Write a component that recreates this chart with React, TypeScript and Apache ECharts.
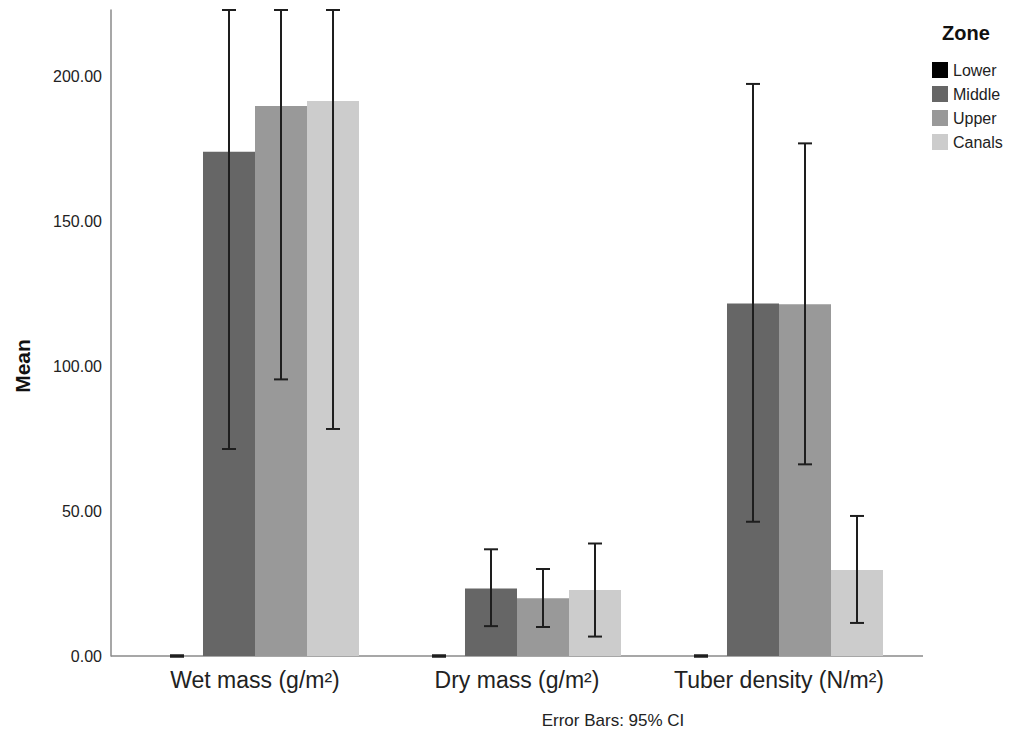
import React, { useEffect, useRef } from "react";
import * as echarts from "echarts";

const categories = ["Wet mass (g/m²)", "Dry mass (g/m²)", "Tuber density (N/m²)"];
const zones = ["Lower", "Middle", "Upper", "Canals"];
const zoneColors = ["#000000", "#666666", "#999999", "#cccccc"];

// means per zone, per category
const lowerMean = [0, 0, 0];
const middleMean = [173.9, 23.3, 121.6];
const upperMean = [189.7, 19.9, 121.3];
const canalsMean = [191.4, 22.8, 29.7];

// 95% CI lows and highs
const lowerLow = [0, 0, 0];
const lowerHigh = [0, 0, 0];
const middleLow = [71.4, 10.3, 46.3];
const middleHigh = [276.4, 36.8, 197.3];
const upperLow = [95.4, 10.0, 66.1];
const upperHigh = [284.0, 30.0, 176.8];
const canalsLow = [78.3, 6.7, 11.4];
const canalsHigh = [304.5, 38.8, 48.3];

const yTicks = [0, 50, 100, 150, 200];
const yMax = 222.8;

const FONT = '"Liberation Sans", Arial, sans-serif';
const GAP = 0.206;

export default function App() {
  const ref = useRef<HTMLDivElement>(null);
  useEffect(() => {
    if (!ref.current) return;
    const chart = echarts.init(ref.current, undefined, { renderer: "svg" });
    const means = [lowerMean, middleMean, upperMean, canalsMean];
    const lows = [lowerLow, middleLow, upperLow, canalsLow];
    const highs = [lowerHigh, middleHigh, upperHigh, canalsHigh];

    const barSeries = zones.map((z, i) => ({
      name: z,
      type: "bar",
      data: means[i],
      barGap: "0%",
      barCategoryGap: GAP * 100 + "%",
      itemStyle: { color: zoneColors[i] },
      z: 2,
    }));

    const errSeries = zones.map((z, zi) => ({
      name: z + " CI",
      type: "custom",
      z: 5,
      encode: { x: 0, y: [1, 2] },
      data: categories.map((_, ci) => [ci, lows[zi][ci], highs[zi][ci]]),
      renderItem: (params: any, api: any) => {
        const ci = api.value(0);
        const lo = api.value(1);
        const hi = Math.min(api.value(2), yMax);
        const pLo = api.coord([ci, lo]);
        const pHi = api.coord([ci, hi]);
        const band = api.size([1, 0])[0];
        const bw = (band * (1 - GAP)) / 4;
        const cx = pLo[0] + (zi - 1.5) * bw;
        const hw = 7;
        const style = { stroke: "#1e1e1e", lineWidth: 2 };
        const capStyle = { stroke: "#1e1e1e", lineWidth: hi === lo ? 3 : 2 };
        return {
          type: "group",
          children: [
            { type: "line", shape: { x1: cx, y1: pLo[1], x2: cx, y2: pHi[1] }, style },
            { type: "line", shape: { x1: cx - hw, y1: pLo[1], x2: cx + hw, y2: pLo[1] }, style: capStyle },
            { type: "line", shape: { x1: cx - hw, y1: pHi[1], x2: cx + hw, y2: pHi[1] }, style: capStyle },
          ],
        };
      },
    }));

    chart.setOption({
      animation: false,
      backgroundColor: "#ffffff",
      textStyle: { fontFamily: FONT },
      grid: { left: 124, top: 10, width: 786, bottom: 77, containLabel: false },
      legend: {
        data: zones,
        orient: "vertical",
        left: 927,
        top: 57,
        itemWidth: 16,
        itemHeight: 16,
        itemGap: 8,
        icon: "rect",
        textStyle: { fontSize: 16, color: "#222", fontFamily: FONT },
        selectedMode: false,
      },
      xAxis: {
        type: "category",
        data: categories,
        axisLine: { show: false },
        axisTick: { show: false },
        axisLabel: { interval: 0, fontSize: 23, color: "#222", margin: 12, fontFamily: FONT },
      },
      yAxis: {
        type: "value",
        min: 0,
        max: yMax,
        interval: 50,
        offset: 13,
        axisLine: { show: true, lineStyle: { color: "#8a8a8a", width: 1.5 } },
        axisTick: { show: false },
        splitLine: { show: false },
        axisLabel: {
          fontSize: 16,
          color: "#222",
          margin: 9,
          showMaxLabel: false,
          fontFamily: FONT,
          formatter: (v: number) => (yTicks.includes(v) ? v.toFixed(2) : ""),
        },
      },
      graphic: [
        {
          type: "line",
          shape: { x1: 111, y1: 656, x2: 923, y2: 656 },
          style: { stroke: "#8a8a8a", lineWidth: 1.5 },
          z: 0,
          zlevel: 0,
        },
        {
          type: "text",
          x: 22,
          y: 366,
          rotation: Math.PI / 2,
          style: {
            text: "Mean",
            fontSize: 21,
            fontWeight: "bold",
            fill: "#111",
            fontFamily: FONT,
            align: "center",
            verticalAlign: "middle",
          },
        },
        {
          type: "text",
          x: 966,
          y: 33,
          style: {
            text: "Zone",
            fontSize: 20,
            fontWeight: "bold",
            fill: "#111",
            fontFamily: FONT,
            align: "center",
            verticalAlign: "middle",
          },
        },
        {
          type: "text",
          x: 613,
          y: 720,
          style: {
            text: "Error Bars: 95% CI",
            fontSize: 17,
            fill: "#222",
            fontFamily: FONT,
            align: "center",
            verticalAlign: "middle",
          },
        },
      ],
      series: [...barSeries, ...errSeries],
    });
    return () => chart.dispose();
  }, []);
  return (
    <div
      ref={ref}
      style={{ position: "fixed", left: 0, top: 0, width: 1010, height: 733, background: "#fff" }}
    />
  );
}
